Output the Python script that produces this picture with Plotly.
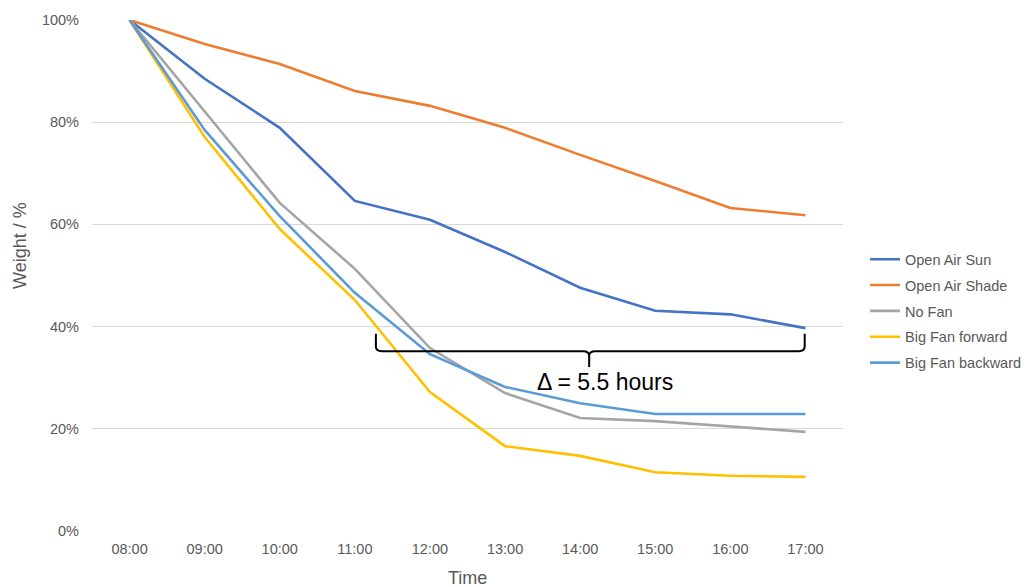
import plotly.graph_objects as go

times = ["08:00", "09:00", "10:00", "11:00", "12:00", "13:00", "14:00", "15:00", "16:00", "17:00"]

open_air_sun = [100, 88.5, 78.9, 64.6, 60.9, 54.6, 47.6, 43.1, 42.4, 39.7]
open_air_shade = [100, 95.3, 91.4, 86.1, 83.2, 78.9, 73.6, 68.5, 63.2, 61.8]
no_fan = [100, 82.0, 64.2, 51.3, 35.8, 27.0, 22.1, 21.5, 20.4, 19.4]
big_fan_forward = [100, 77.1, 59.1, 45.2, 27.2, 16.6, 14.7, 11.5, 10.8, 10.6]
big_fan_backward = [100, 78.5, 61.6, 46.6, 34.6, 28.2, 25.0, 22.9, 22.9, 22.9]

y_ticks = [0, 20, 40, 60, 80, 100]
y_tick_labels = ["0%", "20%", "40%", "60%", "80%", "100%"]

series = [
    ("Open Air Sun", open_air_sun, "#4472C4"),
    ("Open Air Shade", open_air_shade, "#ED7D31"),
    ("No Fan", no_fan, "#A5A5A5"),
    ("Big Fan forward", big_fan_forward, "#FFC000"),
    ("Big Fan backward", big_fan_backward, "#5B9BD5"),
]

FONT = "Liberation Sans, Arial, sans-serif"
x_idx = list(range(len(times)))

W, H = 1033, 587
ml, mr, mt, mb = 92, 190, 20, 56
pw, ph = W - ml - mr, H - mt - mb

fig = go.Figure()
for i, (name, vals, color) in enumerate(series):
    fig.add_trace(go.Scatter(
        x=x_idx, y=vals, mode="lines", name=name,
        line=dict(color=color, width=2.6),
        legendgroup=f"g{i}",
    ))

# brace annotation (data coordinates)
bx0, bx1, bmid = 3.28, 8.99, 6.12
by_top, by_line, by_tip = 38.6, 35.2, 32.1
brace_path = (
    f"M {bx0},{by_top} L {bx0},{by_line+0.9} Q {bx0},{by_line} {bx0+0.08},{by_line} "
    f"L {bmid-0.08},{by_line} Q {bmid},{by_line} {bmid},{by_line-0.9} L {bmid},{by_tip} "
    f"M {bmid},{by_line-0.9} Q {bmid},{by_line} {bmid+0.08},{by_line} "
    f"L {bx1-0.08},{by_line} Q {bx1},{by_line} {bx1},{by_line+0.9} L {bx1},{by_top}"
)
fig.add_shape(type="path", path=brace_path, xref="x", yref="y",
              line=dict(color="black", width=2))

fig.add_annotation(x=6.33, y=29.2, xref="x", yref="y", text="Δ = 5.5 hours",
                   showarrow=False, xanchor="center", yanchor="middle",
                   font=dict(family=FONT, size=23, color="black"))

# axis titles
fig.add_annotation(x=(20 - ml) / pw, y=(H - mb - 246) / ph, xref="paper", yref="paper",
                   text="Weight / %", textangle=-90, showarrow=False,
                   xanchor="center", yanchor="middle",
                   font=dict(family=FONT, size=18, color="#595959"))
fig.add_annotation(x=0.5, y=(H - mb - 578) / ph, xref="paper", yref="paper", text="Time",
                   showarrow=False, xanchor="center", yanchor="middle",
                   font=dict(family=FONT, size=18, color="#595959"))

fig.update_layout(
    width=W, height=H,
    margin=dict(l=ml, r=mr, t=mt, b=mb, pad=0, autoexpand=False),
    paper_bgcolor="white", plot_bgcolor="white",
    font=dict(family=FONT, size=14.5, color="#595959"),
    showlegend=True,
    legend=dict(x=(865 - ml) / pw, xanchor="left", y=0.43, yanchor="middle",
                font=dict(family=FONT, size=14.5, color="#595959"),
                tracegroupgap=4, bgcolor="rgba(0,0,0,0)"),
    xaxis=dict(range=[-0.5, 9.5], tickmode="array", tickvals=x_idx, ticktext=times,
               showgrid=False, zeroline=False, showline=False, ticks="",
               ticklabelstandoff=7, fixedrange=True),
    yaxis=dict(range=[0, 100], tickmode="array", tickvals=y_ticks, ticktext=y_tick_labels,
               showgrid=True, gridcolor="#D9D9D9", gridwidth=1,
               zeroline=False, showline=False, ticks="", ticklabelstandoff=12,
               fixedrange=True),
)

fig.write_html("out.html")
